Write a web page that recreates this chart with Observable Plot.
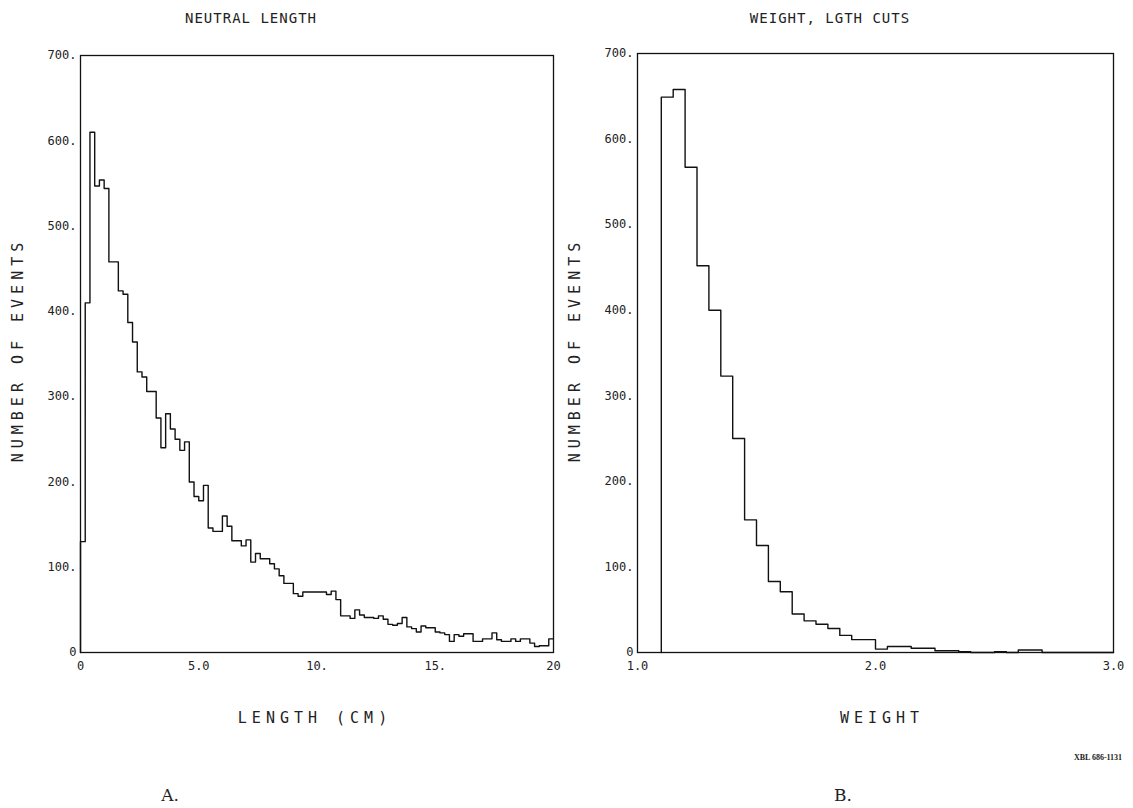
<!DOCTYPE html>
<html>
<head>
<meta charset="utf-8">
<script src="https://cdn.jsdelivr.net/npm/d3@7"></script>
<script src="https://cdn.jsdelivr.net/npm/@observablehq/plot@0.6"></script>
<style>
  body { margin: 0; background: #fff; }
  #page { position: relative; width: 1133px; height: 808px; overflow: hidden; background: #fff; color: #222; }
  #page svg { position: absolute; top: 0; overflow: visible; }
  .txt { position: absolute; white-space: nowrap; transform: translate(-50%, -50%); line-height: 1; }
  .title { font-family: "DejaVu Sans Mono", monospace; font-size: 14px; letter-spacing: 1px; }
  .axlab { font-family: "DejaVu Sans Mono", monospace; font-size: 15px; letter-spacing: 5px; }
  .panel { font-family: "DejaVu Serif", serif; font-size: 17px; }
  .ref { font-family: "Liberation Serif", serif; font-size: 8px; font-weight: bold; }
</style>
</head>
<body>
<div id="page"></div>
<script>
// Panel A: neutral decay length, 0.2 cm bins from 0 to 20 cm
const lengthStart = 0;
const lengthBinWidth = 0.2;
const lengthCounts = [
  130, 410, 610, 547, 554, 544, 458, 458, 424, 420,
  387, 364, 329, 323, 306, 306, 275, 240, 280, 262,
  250, 237, 247, 200, 183, 178, 196, 146, 142, 142,
  160, 148, 131, 131, 125, 132, 106, 116, 110, 110,
  104, 98, 90, 81, 81, 69, 66, 71, 71, 71,
  71, 71, 68, 72, 62, 43, 43, 40, 50, 44,
  41, 41, 40, 43, 39, 33, 32, 34, 41, 30,
  28, 24, 31, 29, 29, 24, 23, 21, 13, 21,
  19, 22, 22, 13, 13, 16, 16, 23, 15, 13,
  13, 16, 13, 16, 16, 11, 7, 8, 8, 16
];
const lengthTicks = [0, 5, 10, 15, 20];
const lengthTickLabels = ["0", "5.0", "10.", "15.", "20"];

// Panel B: weight after length cuts, 0.05 bins from 1.10 to 3.00
const weightStart = 1.1;
const weightBinWidth = 0.05;
const weightCounts = [
  649, 658, 567, 452, 400, 323, 250, 155, 125, 83,
  71, 45, 37, 33, 28, 20, 15, 15, 4, 7,
  7, 5, 5, 2, 2, 1, 0, 0, 1, 0,
  3, 3, 0, 0, 0, 0, 0, 0
];
const weightTicks = [1, 2, 3];
const weightTickLabels = ["1.0", "2.0", "3.0"];

// Shared count axis
const countTicks = [0, 100, 200, 300, 400, 500, 600, 700];
const countTickLabels = ["0", "100.", "200.", "300.", "400.", "500.", "600.", "700."];

// Turn bin counts into the outline of a histogram (step-after line)
function outline(start, width, counts) {
  const pts = [{x: start, y: 0}];
  counts.forEach((c, i) => pts.push({x: +(start + i * width).toFixed(4), y: c}));
  pts.push({x: +(start + counts.length * width).toFixed(4), y: counts[counts.length - 1]});
  return pts;
}

function histogram({start, width, counts, xDomain, xTicks, xLabels, size, margins}) {
  return Plot.plot({
    width: size[0],
    height: size[1],
    marginLeft: margins[0],
    marginRight: margins[1],
    marginTop: margins[2],
    marginBottom: margins[3],
    style: {fontFamily: "'DejaVu Sans Mono', monospace", fontSize: "12px", color: "#222", background: "transparent"},
    x: {domain: xDomain},
    y: {domain: [0, 700]},
    marks: [
      Plot.lineY(outline(start, width, counts), {x: "x", y: "y", curve: "step-after", stroke: "#111", strokeWidth: 1.4}),
      Plot.frame({stroke: "#111", strokeWidth: 1.3}),
      Plot.axisY(countTicks, {tickSize: 0, tickPadding: 4, tickFormat: (d, i) => countTickLabels[i], label: null}),
      Plot.axisX(xTicks, {tickSize: 0, tickPadding: 9, tickFormat: (d, i) => xLabels[i], label: null})
    ]
  });
}

const page = document.getElementById("page");

const left = histogram({
  start: lengthStart, width: lengthBinWidth, counts: lengthCounts,
  xDomain: [0, 20], xTicks: lengthTicks, xLabels: lengthTickLabels,
  size: [566, 700], margins: [80, 13, 55, 48]
});
left.style.left = "0px";
page.appendChild(left);

const right = histogram({
  start: weightStart, width: weightBinWidth, counts: weightCounts,
  xDomain: [1, 3], xTicks: weightTicks, xLabels: weightTickLabels,
  size: [567, 700], margins: [71, 20, 53, 48]
});
right.style.left = "566px";
page.appendChild(right);

function label(text, cx, cy, cls, rotate) {
  const el = document.createElement("div");
  el.className = "txt " + cls;
  el.textContent = text;
  el.style.left = cx + "px";
  el.style.top = cy + "px";
  if (rotate) el.style.transform = "translate(-50%, -50%) rotate(-90deg)";
  page.appendChild(el);
}

label("NEUTRAL LENGTH", 251, 18, "title");
label("WEIGHT, LGTH CUTS", 830, 18, "title");
label("NUMBER OF EVENTS", 18, 350, "axlab", true);
label("NUMBER OF EVENTS", 575, 350, "axlab", true);
label("LENGTH (CM)", 315, 718, "axlab");
label("WEIGHT", 882, 718, "axlab");
label("XBL 686-1131", 1098, 758, "ref");
label("A.", 170, 795, "panel");
label("B.", 843, 795, "panel");
</script>
</body>
</html>
